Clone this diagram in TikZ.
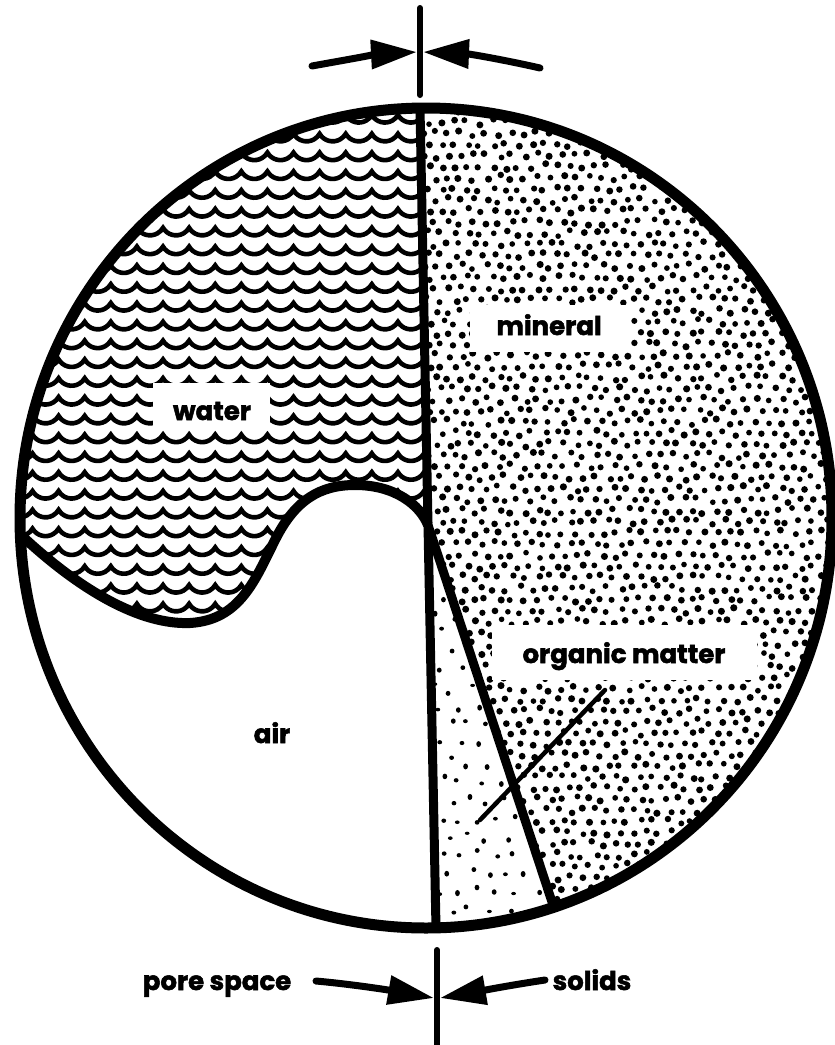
\documentclass[tikz,border=0pt]{standalone}
\usepackage{fontspec}
\setmainfont{Poppins}[BoldFeatures={FakeBold=2}]
\usetikzlibrary{arrows.meta}
\begin{document}
\begin{tikzpicture}[x=1pt,y=-1pt,
  outline/.style={line width=11pt},
  divider/.style={line width=9pt, line join=round},
  boundary/.style={line width=10pt, line join=round},
  wave/.style={line width=4.6pt, line join=miter},
  lbl/.style={font=\fontsize{26}{26}\selectfont\bfseries, inner sep=0pt, anchor=base},
  labelbox/.style={fill=white, draw=none, inner sep=0pt, rectangle},
  bigarrow/.style={line width=7pt, line cap=round, -{Triangle[length=46pt,width=28pt]}},
  tick/.style={line width=6pt, line cap=round},
  leader/.style={line width=4.5pt, line cap=round},
  mdot/.style={fill=black},
]
\useasboundingbox (0,0) rectangle (835,1045);
\fill[white] (0,0) rectangle (835,1045);

\coordinate (O) at (426,518);
\coordinate (T) at (420,108);
\coordinate (M) at (428,525);
\coordinate (B) at (436,928);
\coordinate (E) at (553,905);
\coordinate (L) at (22,536);

% water waves
\begin{scope}
\clip (O) ellipse [x radius=406, y radius=410];
\clip (420,90) -- (0,90) -- (0,536) -- (L) .. controls (80,590) and (140,625) .. (190,623) .. controls (240,620) and (255,580) .. (275,540) .. controls (295,500) and (320,485) .. (355,485) .. controls (395,485) and (420,505) .. (M) -- cycle;
\foreach \k in {-11,...,17}{
  \draw[wave] ({163-26.1*7}, {303+18.8*\k}) \foreach \j in {1,...,18}{ arc[start angle=150,end angle=30,radius=15.07] };
}
\end{scope}

% mineral dots
\begin{scope}
\clip (O) ellipse [x radius=406, y radius=410];
\clip (420,90) -- (M) -- (566,945) -- (850,945) -- (850,90) -- cycle;
\pgfmathsetseed{7}
\foreach \j in {0,...,76}{
  \foreach \i in {0,...,33}{
    \pgfmathsetmacro\px{416+\i*12.8+mod(\j,2)*6.4+3*rand}
    \pgfmathsetmacro\py{100+\j*11.1+3*rand}
    \pgfmathsetmacro\pr{3.2+0.4*rand}
    \fill[mdot] (\px,\py) circle (\pr);
  }
}
\end{scope}

% organic matter dots
\begin{scope}
\clip (O) ellipse [x radius=406, y radius=410];
\clip (M) -- (437,950) -- (570,955) -- cycle;
\pgfmathsetseed{3}
\foreach \j in {0,...,22}{
  \foreach \i in {0,...,8}{
    \pgfmathsetmacro\px{422+\i*19+mod(\j,2)*9.5+5*rand}
    \pgfmathsetmacro\py{522+\j*18.5+5*rand}
    \fill[mdot] (\px,\py) ellipse [x radius=2.4, y radius={2.4+0.8*rand}];
  }
}
\end{scope}

% label boxes and labels
\node[labelbox, minimum width=160pt, minimum height=47pt] (mbox) at (550,328.5) {};
\node[lbl] (mineral) at (549,335) {mineral};
\node[labelbox, minimum width=117pt, minimum height=45pt] (wbox) at (211.5,405.5) {};
\node[lbl] (water) at (212,420) {water};
\node[labelbox, minimum width=265pt, minimum height=55pt] (obox) at (624.5,652.5) {};
\node[lbl] (organic) at (624,663) {organic matter};
\node[lbl] (air) at (272,743) {air};

% outline and dividers
\draw[outline] (O) ellipse [x radius=406, y radius=410];
\draw[boundary] (L) .. controls (80,590) and (140,625) .. (190,623) .. controls (240,620) and (255,580) .. (275,540) .. controls (295,500) and (320,485) .. (355,485) .. controls (395,485) and (420,505) .. (M);
\draw[divider] (T) -- (M) -- (B);
\draw[divider] (M) -- (E);

% leader for organic matter
\coordinate (la) at (605,690);
\coordinate (lb) at (480,820);
\draw[leader] (la) -- (lb);

% top arrows
\coordinate (tt) at (420,8);
\coordinate (tb) at (420,95);
\draw[tick] (tt) -- (tb);
\coordinate (tls) at (312,66);
\coordinate (tle) at (417,52);
\coordinate (trs) at (540,68);
\coordinate (tre) at (423,52);
\draw[bigarrow] (tls) .. controls (345,60) and (380,54) .. (tle);
\draw[bigarrow] (trs) .. controls (505,60) and (470,54) .. (tre);

% bottom arrows
\coordinate (bt) at (437,950);
\coordinate (bb) at (437,1045);
\draw[tick] (bt) -- (bb);
\node[lbl] (pore) at (217,990) {pore space};
\node[lbl] (solids) at (592,990) {solids};
\coordinate (bls) at (316,981);
\coordinate (ble) at (434,998);
\coordinate (brs) at (545,980);
\coordinate (bre) at (440,998);
\draw[bigarrow] (bls) .. controls (360,985) and (400,992) .. (ble);
\draw[bigarrow] (brs) .. controls (505,986) and (475,992) .. (bre);
\end{tikzpicture}
\end{document}
